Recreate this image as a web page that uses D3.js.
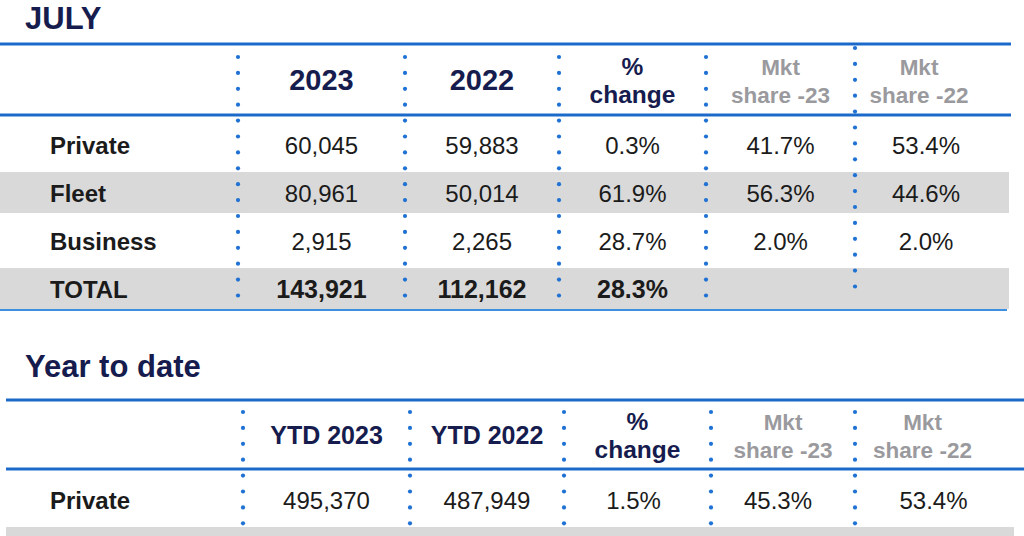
<!DOCTYPE html>
<html>
<head>
<meta charset="utf-8">
<script src="https://cdn.jsdelivr.net/npm/d3@7/dist/d3.min.js"></script>
<style>
  html, body { margin: 0; padding: 0; background: #ffffff; }
  svg { display: block; }
  text { font-family: "Liberation Sans", Arial, sans-serif; }
</style>
</head>
<body>
<svg id="chart" width="1024" height="536"></svg>
<script>
// ---------- DATA ----------
const julyTitle = "JULY";
const julyCategories = ["Private", "Fleet", "Business", "TOTAL"];
const julyHeaders = [["2023"], ["2022"], ["%", "change"], ["Mkt", "share -23"], ["Mkt", "share -22"]];
const july2023 = [60045, 80961, 2915, 143921];
const july2022 = [59883, 50014, 2265, 112162];
const julyChange = [0.3, 61.9, 28.7, 28.3];
const julyShare23 = [41.7, 56.3, 2.0, null];
const julyShare22 = [53.4, 44.6, 2.0, null];

const ytdTitle = "Year to date";
// second row is cut off by the picture's bottom edge: only its grey band shows
const ytdCategories = ["Private", "Fleet"];
const ytdHeaders = [["YTD 2023"], ["YTD 2022"], ["%", "change"], ["Mkt", "share -23"], ["Mkt", "share -22"]];
const ytd2023 = [495370, null];
const ytd2022 = [487949, null];
const ytdChange = [1.5, null];
const ytdShare23 = [45.3, null];
const ytdShare22 = [53.4, null];

// ---------- STYLE ----------
const NAVY = "#161c4e";
const GREY_HEAD = "#9a9a9e";
const BLUE = "#1b6ac9";
const DOT = "#1f72d3";
const BAND = "#d9d9d9";
const INK = "#1b1b1b";
const H = 536;

const fmtInt = d3.format(",");
const fmtPct = v => d3.format(".1f")(v) + "%";

const svg = d3.select("#chart");

function drawTable(cfg) {
  const g = svg.append("g");
  const n = cfg.categories.length;
  const y = d3.scaleBand()
    .domain(cfg.categories)
    .range([cfg.rowStart, cfg.rowStart + 48 * n])
    .paddingInner(7 / 48)
    .paddingOuter(3.5 / 48);

  const edges = cfg.edges;
  const colX = d3.scaleOrdinal().domain(d3.range(5)).range(d3.range(5).map(i => (edges[i] + edges[i + 1]) / 2));

  g.append("text")
    .attr("x", 25).attr("y", cfg.titleBaseline)
    .attr("font-size", 31).attr("font-weight", "bold").attr("fill", NAVY)
    .text(cfg.title);

  g.selectAll("rect.band")
    .data(cfg.categories.filter((d, i) => i % 2 === 1))
    .join("rect")
    .attr("class", "band")
    .attr("x", cfg.x0).attr("width", cfg.bandRight - cfg.x0)
    .attr("y", d => y(d)).attr("height", d => Math.min(y.bandwidth(), H - y(d)))
    .attr("fill", BAND);

  g.append("line").attr("x1", cfg.x0).attr("x2", cfg.lineRight)
    .attr("y1", cfg.headTop).attr("y2", cfg.headTop)
    .attr("stroke", BLUE).attr("stroke-width", 3);
  g.append("line").attr("x1", cfg.x0).attr("x2", cfg.lineRight)
    .attr("y1", cfg.headBottom).attr("y2", cfg.headBottom)
    .attr("stroke", BLUE).attr("stroke-width", 3);
  if (cfg.bottomLine) {
    g.append("line").attr("x1", cfg.x0).attr("x2", cfg.bottomLine.right)
      .attr("y1", cfg.bottomLine.y).attr("y2", cfg.bottomLine.y)
      .attr("stroke", "#3f8fe0").attr("stroke-width", 2);
  }

  cfg.dividers.forEach(dv => {
    const ys = d3.range(dv.count).map(k => dv.start + k * 15.9);
    g.selectAll(null).data(ys).join("circle")
      .attr("cx", dv.x).attr("cy", d => d).attr("r", 2.1).attr("fill", DOT);
  });

  const headMid = (cfg.headTop + cfg.headBottom) / 2;
  cfg.headers.forEach((lines, i) => {
    const grey = lines[0] === "Mkt";
    const t = g.append("text")
      .attr("text-anchor", "middle")
      .attr("font-weight", "bold")
      .attr("fill", grey ? GREY_HEAD : NAVY);
    if (lines.length === 1) {
      t.attr("x", colX(i)).attr("y", headMid + cfg.singleHeadSize * 0.36)
        .attr("font-size", cfg.singleHeadSize).text(lines[0]);
    } else {
      t.attr("font-size", grey ? 22.5 : 24.5);
      lines.forEach((ln, k) => {
        t.append("tspan").attr("x", colX(i))
          .attr("y", headMid - 5 + (k === 0 ? 0 : 28.5))
          .text(ln);
      });
    }
  });

  // row labels (only rows whose text lies inside the picture)
  const visible = cfg.categories.filter(d => y(d) + y.bandwidth() / 2 + 12 <= H);
  g.selectAll("text.cat").data(visible).join("text")
    .attr("class", "cat")
    .attr("x", 50).attr("y", d => y(d) + y.bandwidth() / 2 + 9.5)
    .attr("font-size", 24).attr("font-weight", "bold").attr("fill", INK)
    .text(d => d);

  const cols = [
    { vals: cfg.v1, f: fmtInt },
    { vals: cfg.v2, f: fmtInt },
    { vals: cfg.chg, f: fmtPct },
    { vals: cfg.s1, f: fmtPct },
    { vals: cfg.s2, f: fmtPct }
  ];
  cols.forEach((c, ci) => {
    const cells = cfg.categories.map((cat, ri) => ({ cat, v: c.vals[ri], bold: cat === "TOTAL" }))
      .filter(d => d.v !== null && d.v !== undefined);
    g.selectAll(null).data(cells).join("text")
      .attr("x", colX(ci) + (cfg.valueShift ? cfg.valueShift[ci] : 0))
      .attr("y", d => y(d.cat) + y.bandwidth() / 2 + 9.5)
      .attr("text-anchor", "middle")
      .attr("font-size", d => d.bold ? 25 : 24)
      .attr("font-weight", d => d.bold ? "bold" : "normal")
      .attr("fill", INK)
      .text(d => c.f(d.v));
  });
}

drawTable({
  title: julyTitle, titleBaseline: 29,
  categories: julyCategories, headers: julyHeaders,
  v1: july2023, v2: july2022, chg: julyChange, s1: julyShare23, s2: julyShare22,
  x0: 0, lineRight: 1011, bandRight: 1009,
  headTop: 44, headBottom: 115, rowStart: 120.5,
  singleHeadSize: 29,
  edges: [238, 405, 559, 706, 855, 983],
  valueShift: [0, 0, 0, 0, 7],
  bottomLine: { y: 310, right: 1007 },
  dividers: [
    { x: 238, start: 57, count: 16 },
    { x: 405, start: 57, count: 16 },
    { x: 559, start: 57, count: 16 },
    { x: 706, start: 57, count: 16 },
    { x: 855, start: 48, count: 16 }
  ]
});

drawTable({
  title: ytdTitle, titleBaseline: 377,
  categories: ytdCategories, headers: ytdHeaders,
  v1: ytd2023, v2: ytd2022, chg: ytdChange, s1: ytdShare23, s2: ytdShare22,
  x0: 6, lineRight: 1024, bandRight: 1014,
  headTop: 400, headBottom: 469, rowStart: 475.5,
  singleHeadSize: 25,
  edges: [243, 410, 564, 711, 855, 990],
  valueShift: [0, 0, -4, -5, 11],
  dividers: [
    { x: 243, start: 412, count: 9 },
    { x: 410, start: 412, count: 9 },
    { x: 564, start: 412, count: 9 },
    { x: 711, start: 412, count: 9 },
    { x: 855, start: 412, count: 9 }
  ]
});
</script>
</body>
</html>
